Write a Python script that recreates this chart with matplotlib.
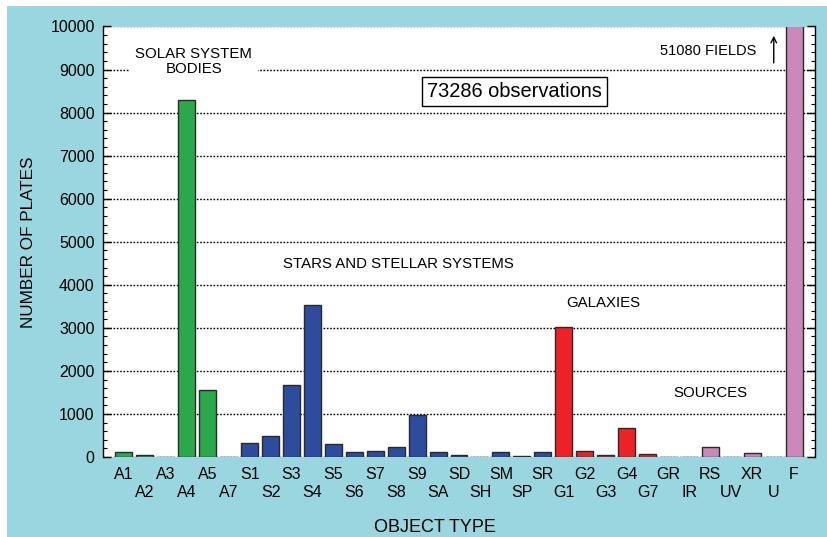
import matplotlib.pyplot as plt
from matplotlib.patches import Rectangle
from matplotlib.ticker import MultipleLocator

plt.rcParams['font.family'] = ['Liberation Sans', 'DejaVu Sans']

# Categorias y numero de placas
tipos = ["A1", "A2", "A3", "A4", "A5", "A7",
         "S1", "S2", "S3", "S4", "S5", "S6", "S7", "S8", "S9", "SA", "SD", "SH", "SM", "SP", "SR",
         "G1", "G2", "G3", "G4", "G7", "GR",
         "IR", "RS", "UV", "XR", "U", "F"]
placas = [110, 45, 5, 8300, 1550, 10,
          318, 495, 1670, 3530, 302, 110, 140, 233, 977, 116, 45, 10, 110, 15, 116,
          3020, 132, 45, 667, 70, 10,
          10, 225, 10, 85, 10, 51080]
grupos = ["A"] * 6 + ["S"] * 15 + ["G"] * 6 + ["R"] * 6
colores = {"A": "#2aa84a", "S": "#2e4c9e", "G": "#ee2226", "R": "#cc88bb"}

fig = plt.figure(figsize=(8.27, 5.37), dpi=100)
fig.patch.set_facecolor("white")
fig.patches.append(Rectangle((7 / 827, 0), 1, 1 - 6 / 537, transform=fig.transFigure,
                             facecolor="#99d6e0", edgecolor="none", zorder=-10))

ax = fig.add_axes([103 / 827, 1 - 457 / 537, (815 - 103) / 827, (457 - 26.5) / 537])
ax.set_facecolor("white")

x = list(range(len(tipos)))
ax.bar(x, placas, width=0.81, color=[colores[g] for g in grupos],
       edgecolor="#2a2a2a", linewidth=1, zorder=3)

ax.set_xlim(-1, 33)
ax.set_ylim(0, 10000)

# Etiquetas en dos filas
etiquetas = [t if i % 2 == 0 else "\n" + t for i, t in enumerate(tipos)]
ax.set_xticks(x)
ax.set_xticklabels(etiquetas, fontsize=11.5, linespacing=1.25)
ax.tick_params(axis="x", length=0, pad=7)

ax.yaxis.set_major_locator(MultipleLocator(1000))
ax.yaxis.set_minor_locator(MultipleLocator(200))
ax.tick_params(axis="y", which="both", direction="in", right=True, labelsize=11.5, pad=6)
ax.tick_params(axis="y", which="major", length=6, width=1)
ax.tick_params(axis="y", which="minor", length=3, width=0.8)

ax.grid(axis="y", linestyle=(0, (1.2, 1.2)), color="black", linewidth=1, zorder=1)
ax.set_axisbelow(True)
ax.spines["top"].set_visible(False)
ax.spines["bottom"].set_visible(False)
ax.spines["left"].set_linewidth(1)
ax.spines["right"].set_linewidth(1)

ax.set_ylabel("NUMBER OF PLATES", fontsize=12.3, labelpad=10)
ax.set_xlabel("OBJECT TYPE", fontsize=13, labelpad=8)
ax.xaxis.set_label_coords(0.466, -0.145)

# Textos de grupos
ax.text(3.34, 9190, "SOLAR SYSTEM\nBODIES", ha="center", va="center", fontsize=10.8,
        linespacing=1.15, zorder=4,
        bbox=dict(boxstyle="square,pad=0.4", facecolor="white", edgecolor="none"))
ax.text(13.13, 4480, "STARS AND STELLAR SYSTEMS", ha="center", va="center", fontsize=10.8, zorder=4)
ax.text(22.9, 3580, "GALAXIES", ha="center", va="center", fontsize=10.8, zorder=4)
ax.text(28.02, 1480, "SOURCES", ha="center", va="center", fontsize=10.8, zorder=4)
ax.text(18.67, 8490, "73286 observations", ha="center", va="center", fontsize=14.4, zorder=4,
        bbox=dict(boxstyle="square,pad=0.25", facecolor="white", edgecolor="black", linewidth=1))
ax.text(30.2, 9420, "51080 FIELDS", ha="right", va="center", fontsize=10.5, zorder=4)
ax.annotate("", xy=(31.03, 9850), xytext=(31.03, 9090),
            arrowprops=dict(arrowstyle="->", color="black", lw=1), zorder=4)

fig.savefig("out.png", dpi=100)
